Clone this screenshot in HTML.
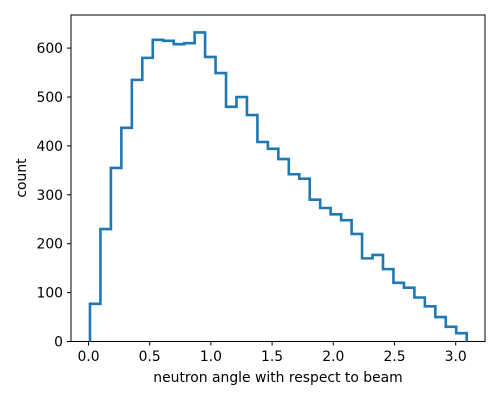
<!DOCTYPE html>
<html><head><meta charset="utf-8"><style>body{margin:0;background:#fff}svg{font-family:"DejaVu Sans","Liberation Sans",sans-serif}</style></head>
<body>
<svg id="c" width="500" height="400">
<rect x="71" y="15" width="414" height="326.5" fill="#fff" stroke="#000" stroke-width="1"/>
<g id="ticks"></g>
<path id="hist" fill="none" stroke="#1f77b4" stroke-width="2.6"/>
<text x="278" y="382" font-size="13.9" text-anchor="middle">neutron angle with respect to beam</text>
<text x="26" y="178" font-size="13.9" text-anchor="middle" transform="rotate(-90 26 178)">count</text>
</svg>
<script>
const counts=[77,230,355,437,535,580,617,615,608,610,632,582,549,480,500,463,408,394,373,342,333,290,273,260,248,220,170,177,148,120,110,90,72,50,30,17];
const binStart=0.012, binEnd=3.09;
const xTicks=[0.0,0.5,1.0,1.5,2.0,2.5,3.0];
const xTickLabels=["0.0","0.5","1.0","1.5","2.0","2.5","3.0"];
const yTicks=[0,100,200,300,400,500,600];
const X=v=>88.5+v*122.4, Y=v=>341.5-v*0.489;
const ns="http://www.w3.org/2000/svg";
const w=(binEnd-binStart)/counts.length;
let d="M"+X(binStart)+","+Y(0);
counts.forEach((c,i)=>{d+=" L"+X(binStart+i*w)+","+Y(c)+" L"+X(binStart+(i+1)*w)+","+Y(c);});
d+=" L"+X(binEnd)+","+Y(0);
document.getElementById('hist').setAttribute('d',d);
const g=document.getElementById('ticks');
xTicks.forEach((t,i)=>{
 const l=document.createElementNS(ns,'line');
 
 
 l.setAttribute('x1',X(t));l.setAttribute('x2',X(t));l.setAttribute('y1',341.5);l.setAttribute('y2',345.5);l.setAttribute('stroke','#000');g.appendChild(l);
 const tx=document.createElementNS(ns,'text');
 
 
 tx.setAttribute('x',X(t));tx.setAttribute('y',361);tx.setAttribute('font-size','13.9');tx.setAttribute('text-anchor','middle');tx.textContent=xTickLabels[i];g.appendChild(tx);
});
yTicks.forEach(t=>{
 const l=document.createElementNS(ns,'line');
 
 
 l.setAttribute('x1',67);l.setAttribute('x2',71);l.setAttribute('y1',Y(t));l.setAttribute('y2',Y(t));l.setAttribute('stroke','#000');g.appendChild(l);
 const tx=document.createElementNS(ns,'text');
 
 
 tx.setAttribute('x',63);tx.setAttribute('y',Y(t)+5);tx.setAttribute('font-size','13.9');tx.setAttribute('text-anchor','end');tx.textContent=t;g.appendChild(tx);
});
</script>
</body></html>
